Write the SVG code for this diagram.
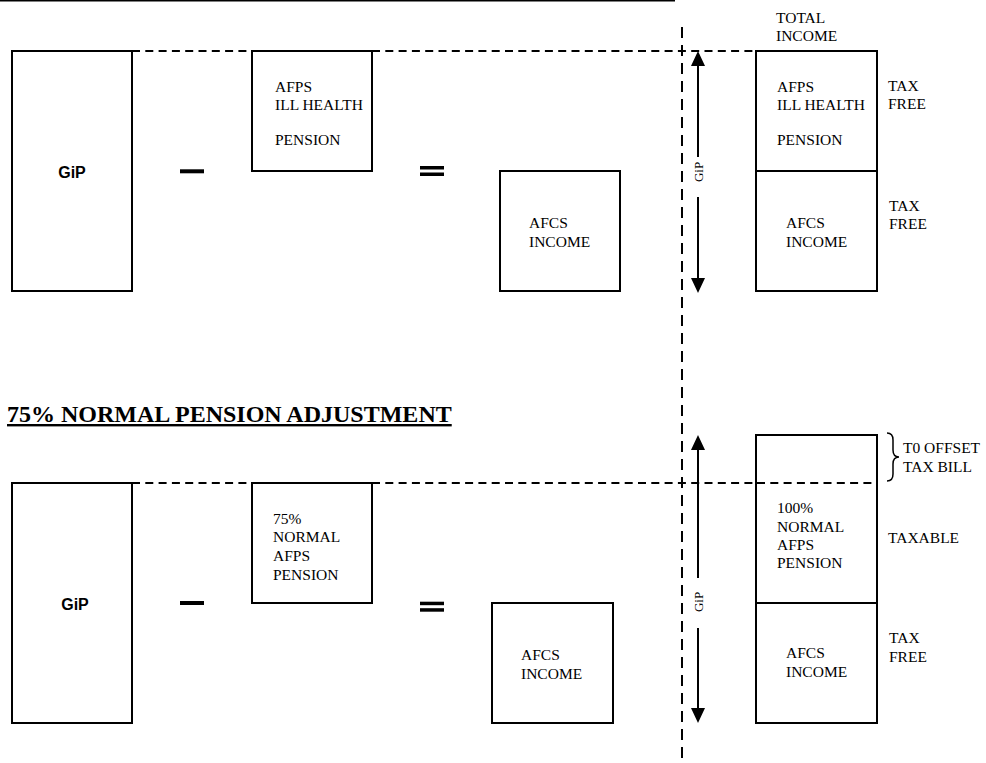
<svg xmlns="http://www.w3.org/2000/svg" width="986" height="763" viewBox="0 0 986 763">
<defs>
<style>
.box{fill:#fff;stroke:#000;stroke-width:2}
.dash{stroke:#000;stroke-width:2;stroke-dasharray:8 5.3;fill:none}
.vdash{stroke:#000;stroke-width:2;stroke-dasharray:11 7;fill:none}
.t{font-family:"Liberation Serif","Times New Roman",serif;font-size:15.5px;fill:#000}
.g{font-family:"Liberation Sans",Arial,sans-serif;font-size:16px;font-weight:bold;fill:#000}
.gv{font-family:"Liberation Serif","Times New Roman",serif;font-size:13px;fill:#000}
.title{font-family:"Liberation Serif","Times New Roman",serif;font-size:24px;font-weight:bold;fill:#000;text-decoration:underline}
.arr{stroke:#000;stroke-width:2;fill:none}
.op{fill:#000}
</style>
<marker id="ah" markerUnits="userSpaceOnUse" markerWidth="16" markerHeight="14" refX="7" refY="7" orient="auto">
<path d="M0,0 L15,7 L0,14 z" fill="#000"/>
</marker>
</defs>
<rect width="986" height="763" fill="#fff"/>
<line x1="0" y1="0.75" x2="675" y2="0.75" stroke="#000" stroke-width="1.5"/>

<g id="connectors">
<line class="dash" x1="132" y1="51" x2="252" y2="51"/>
<line class="dash" x1="372" y1="51" x2="756" y2="51"/>
<line class="dash" x1="132" y1="483" x2="252" y2="483"/>
<line class="dash" x1="372" y1="483" x2="874" y2="483"/>
<line class="vdash" x1="682" y1="27" x2="682" y2="763"/>
<line class="arr" x1="698" y1="157" x2="698" y2="59" marker-end="url(#ah)"/>
<line class="arr" x1="698" y1="197" x2="698" y2="285" marker-end="url(#ah)"/>
<line class="arr" x1="698" y1="578" x2="698" y2="443" marker-end="url(#ah)"/>
<line class="arr" x1="698" y1="628" x2="698" y2="715" marker-end="url(#ah)"/>
<text class="gv" transform="translate(703,172) rotate(-90)" text-anchor="middle">GiP</text>
<text class="gv" transform="translate(703,602) rotate(-90)" text-anchor="middle">GiP</text>
</g>

<g id="top-gip">
<rect class="box" x="12" y="51" width="120" height="240"/>
<text class="g" x="72" y="178" text-anchor="middle">GiP</text>
</g>
<g id="top-minus"><rect class="op" x="180" y="169.3" width="24" height="4"/></g>
<g id="top-afps">
<rect class="box" x="252" y="51" width="120" height="120"/>
<text class="t" x="275" y="92">AFPS</text>
<text class="t" x="275" y="110">ILL HEALTH</text>
<text class="t" x="275" y="145">PENSION</text>
</g>
<g id="top-equals"><rect class="op" x="420" y="166" width="24" height="3.5"/><rect class="op" x="420" y="172.5" width="24" height="3.5"/></g>
<g id="top-afcs">
<rect class="box" x="500" y="171" width="120" height="120"/>
<text class="t" x="529" y="228">AFCS</text>
<text class="t" x="529" y="247">INCOME</text>
</g>
<g id="top-total">
<text class="t" x="776" y="23">TOTAL</text>
<text class="t" x="776" y="41">INCOME</text>
</g>
<g id="top-stack-afps">
<rect class="box" x="756" y="51" width="121" height="120"/>
<text class="t" x="777" y="92">AFPS</text>
<text class="t" x="777" y="110">ILL HEALTH</text>
<text class="t" x="777" y="145">PENSION</text>
</g>
<g id="top-stack-afcs">
<rect class="box" x="756" y="171" width="121" height="120"/>
<text class="t" x="786" y="228">AFCS</text>
<text class="t" x="786" y="247">INCOME</text>
</g>
<g id="top-taxfree1">
<text class="t" x="888" y="91">TAX</text>
<text class="t" x="888" y="109">FREE</text>
</g>
<g id="top-taxfree2">
<text class="t" x="889" y="211">TAX</text>
<text class="t" x="889" y="229">FREE</text>
</g>

<g id="title"><text class="title" x="7" y="422">75% NORMAL PENSION ADJUSTMENT</text></g>

<g id="bot-gip">
<rect class="box" x="12" y="483" width="120" height="240"/>
<text class="g" x="75" y="610" text-anchor="middle">GiP</text>
</g>
<g id="bot-minus"><rect class="op" x="180" y="601" width="24" height="4"/></g>
<g id="bot-afps">
<rect class="box" x="252" y="483" width="120" height="120"/>
<text class="t" x="273" y="524">75%</text>
<text class="t" x="273" y="542">NORMAL</text>
<text class="t" x="273" y="561">AFPS</text>
<text class="t" x="273" y="580">PENSION</text>
</g>
<g id="bot-equals"><rect class="op" x="420" y="601.7" width="24" height="3.5"/><rect class="op" x="420" y="608.2" width="24" height="3.5"/></g>
<g id="bot-afcs">
<rect class="box" x="492" y="603" width="121" height="120"/>
<text class="t" x="521" y="660">AFCS</text>
<text class="t" x="521" y="679">INCOME</text>
</g>
<g id="bot-stack-normal">
<rect class="box" x="756" y="435" width="121" height="168"/>
<text class="t" x="777" y="513">100%</text>
<text class="t" x="777" y="532">NORMAL</text>
<text class="t" x="777" y="550">AFPS</text>
<text class="t" x="777" y="568">PENSION</text>
</g>
<g id="bot-stack-afcs">
<rect class="box" x="756" y="603" width="121" height="120"/>
<text class="t" x="786" y="658">AFCS</text>
<text class="t" x="786" y="677">INCOME</text>
</g>
<g id="bot-dash-overlay"><line class="dash" x1="757" y1="483" x2="874" y2="483"/></g>
<g id="bot-offset">
<path d="M887,433 Q893,433 893,440 L893,450 Q893,457 899,457 Q893,457 893,464 L893,474 Q893,481 887,481" fill="none" stroke="#000" stroke-width="1.5"/>
<text class="t" x="903" y="453">T0 OFFSET</text>
<text class="t" x="903" y="472">TAX BILL</text>
</g>
<g id="bot-taxable"><text class="t" x="888" y="543">TAXABLE</text></g>
<g id="bot-taxfree">
<text class="t" x="889" y="643">TAX</text>
<text class="t" x="889" y="662">FREE</text>
</g>
</svg>
